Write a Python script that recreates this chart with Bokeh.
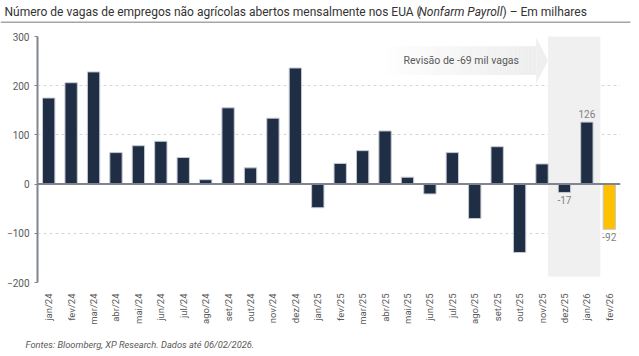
import numpy as np
from bokeh.plotting import figure
from bokeh.layouts import column
from bokeh.models import ColumnDataSource, FixedTicker, Span, Range1d
from bokeh.core.properties import value
from bokeh.embed import file_html
from bokeh.resources import INLINE

months = ["jan/24", "fev/24", "mar/24", "abr/24", "mai/24", "jun/24", "jul/24", "ago/24",
          "set/24", "out/24", "nov/24", "dez/24", "jan/25", "fev/25", "mar/25", "abr/25",
          "mai/25", "jun/25", "jul/25", "ago/25", "set/25", "out/25", "nov/25", "dez/25",
          "jan/26", "fev/26"]
payroll = [175, 206, 228, 64, 78, 87, 54, 9, 155, 33, 134, 236, -48, 42, 68, 108,
           14, -20, 64, -70, 76, -139, 41, -17, 126, -92]
bar_colors = ["#1F2D45"] * 25 + ["#FFC000"]
labeled_months = ["dez/25", "jan/26", "fev/26"]
y_ticks = [-200, -100, 0, 100, 200, 300]
revision_text = "Revisão de -69 mil vagas"
title_parts = ["Número de vagas de empregos não agrícolas abertos mensalmente nos EUA (",
               "Nonfarm Payroll", ") – Em milhares"]
footer_text = "Fontes: Bloomberg, XP Research. Dados até 06/02/2026."

FONT = "Roboto"
GREY_TXT = "#595959"
W = 639
TOP_H, MAIN_H, FOOT_H = 30, 302, 24


def blank_fig(h):
    f = figure(width=W, height=h, x_range=Range1d(0, W), y_range=Range1d(h, 0),
               output_backend="svg", toolbar_location=None, x_axis_location=None,
               y_axis_location=None, min_border=0, frame_align=False)
    f.grid.visible = False
    f.outline_line_color = None
    return f


# ---- title strip ----
t = blank_fig(TOP_H)
styles = ["normal", "italic", "normal"]
xs = [4, 418, 502]
for txt, st, x in zip(title_parts, styles, xs):
    t.text(x=[x], y=[11], text=[txt], text_font=value(FONT), text_font_size="12px",
           text_font_style=st, text_color="#333333", text_align="left", text_baseline="middle")
t.segment(x0=[0], y0=[21.7], x1=[630], y1=[21.7], line_color="#A6A6A6", line_width=1.5)

# ---- main chart ----
idx = list(range(len(months)))
src = ColumnDataSource(dict(x=idx, top=payroll, color=bar_colors))

p = figure(width=W, height=MAIN_H, x_range=(-0.5, len(months) - 0.5), y_range=(-200, 300),
           output_backend="svg", toolbar_location=None, frame_align=False,
           min_border_left=37, min_border_right=19, min_border_top=6, min_border_bottom=50)
p.outline_line_color = None

p.xgrid.grid_line_color = None
p.ygrid.ticker = FixedTicker(ticks=y_ticks)
p.ygrid.grid_line_color = "#D6D6D6"
p.ygrid.grid_line_dash = "3 3"

p.yaxis.ticker = FixedTicker(ticks=y_ticks)
p.yaxis.axis_line_color = "#7F8590"
p.yaxis.axis_line_width = 2
p.yaxis.major_tick_line_color = "#7F8590"
p.yaxis.major_tick_out = 3
p.yaxis.major_tick_in = 0
p.yaxis.minor_tick_line_color = None
p.yaxis.major_label_text_font = FONT
p.yaxis.major_label_text_font_size = "10px"
p.yaxis.major_label_text_color = GREY_TXT
p.yaxis.major_label_standoff = 5

p.xaxis.ticker = FixedTicker(ticks=idx)
p.xaxis.major_label_overrides = {i: m for i, m in zip(idx, months)}
p.xaxis.major_label_orientation = np.pi / 2
p.xaxis.axis_line_color = None
p.xaxis.major_tick_line_color = None
p.xaxis.minor_tick_line_color = None
p.xaxis.major_label_text_font = FONT
p.xaxis.major_label_text_font_size = "9.5px"
p.xaxis.major_label_text_color = GREY_TXT
p.xaxis.major_label_standoff = 5

i_dez = months.index("dez/25")
i_jan = months.index("jan/26")
p.quad(left=[i_dez - 0.73], right=[i_jan + 0.6], bottom=[-188], top=[302],
       fill_color="#F0F0F0", line_color=None)

x0, x1 = 15.04, i_dez - 1.26
n = 40
edges = np.linspace(x0, x1, n + 1)
p.quad(left=edges[:-1], right=edges[1:], bottom=[222] * n, top=[280] * n,
       fill_color="#EDEDED", fill_alpha=list(np.linspace(0.05, 1.0, n)), line_color=None)
p.patch(x=[x1, i_dez - 0.73, x1], y=[204, 251, 298], fill_color="#EFEFEF", line_color=None)
p.text(x=[18.4], y=[251], text=[revision_text], text_font=value(FONT), text_font_size="10.5px",
       text_color=GREY_TXT, text_align="center", text_baseline="middle")

p.vbar(x="x", top="top", bottom=0, width=0.55, fill_color="color", line_color="#C5CAD2",
       line_width=1, source=src)

p.add_layout(Span(location=0, dimension="width", line_color="#7F8590", line_width=2))

lx = [months.index(m) for m in labeled_months]
lv = [payroll[i] for i in lx]
pos = [(x, v) for x, v in zip(lx, lv) if v >= 0]
neg = [(x, v) for x, v in zip(lx, lv) if v < 0]
p.text(x=[a for a, b in pos], y=[b for a, b in pos], text=[str(b) for a, b in pos],
       text_font=value(FONT), text_font_size="10px", text_color="#7F7F7F",
       text_align="center", text_baseline="bottom", y_offset=-4)
p.text(x=[a for a, b in neg], y=[b for a, b in neg], text=[str(b) for a, b in neg],
       text_font=value(FONT), text_font_size="10px", text_color="#7F7F7F",
       text_align="center", text_baseline="top", y_offset=4)

# ---- footer strip ----
f = blank_fig(FOOT_H)
f.text(x=[25], y=[12], text=[footer_text], text_font=value(FONT), text_font_size="9.3px",
       text_font_style="italic", text_color=GREY_TXT, text_align="left", text_baseline="middle")

layout = column(t, p, f, spacing=0)
open("out.html", "w").write(file_html(layout, INLINE))
